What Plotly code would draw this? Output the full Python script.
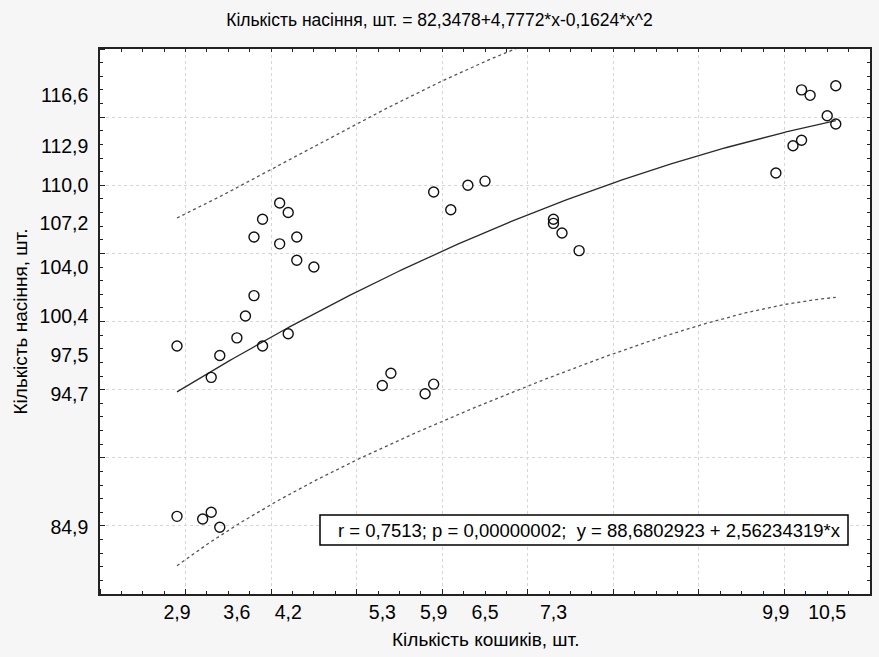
import numpy as np
import plotly.graph_objects as go

# ---- data ----
kosh = [2.9, 3.3, 3.4, 3.6, 3.7, 3.8, 3.9, 4.2, 3.8, 3.9, 4.1, 4.2, 4.1, 4.3, 4.3, 4.5,
        2.9, 3.2, 3.3, 3.4, 5.9, 6.1, 6.3, 6.5, 7.3, 7.3, 7.4, 7.6, 5.3, 5.4, 5.8, 5.9,
        10.2, 10.3, 10.6, 10.5, 10.6, 10.2, 10.1, 9.9]
nasin = [98.2, 95.9, 97.5, 98.8, 100.4, 101.9, 98.2, 99.1, 106.2, 107.5, 108.7, 108.0,
         105.7, 106.2, 104.5, 104.0, 85.7, 85.5, 86.0, 84.9, 109.5, 108.2, 110.0, 110.3,
         107.5, 107.2, 106.5, 105.2, 95.3, 96.2, 94.7, 95.4, 117.0, 116.6, 117.3, 115.1,
         114.5, 113.3, 112.9, 110.9]

# fitted polynomial from the title
b0, b1, b2 = 82.3478, 4.7772, -0.1624
t_crit = 2.026  # t(0.975, n-3)

x_ticks = [2.9, 3.6, 4.2, 5.3, 5.9, 6.5, 7.3, 9.9, 10.5]
y_ticks = [84.9, 94.7, 97.5, 100.4, 104.0, 107.2, 110.0, 112.9, 116.6]

def fmt(v):
    return f"{v:.1f}".replace(".", ",")

# ---- fit curve and 95% prediction band ----
xa = np.array(kosh)
ya = np.array(nasin)
X = np.column_stack([np.ones_like(xa), xa, xa ** 2])
beta = np.array([b0, b1, b2])
resid = ya - X @ beta
s = np.sqrt(np.sum(resid ** 2) / (len(xa) - 3))
XtX_inv = np.linalg.inv(X.T @ X)

xs = np.linspace(min(kosh), max(kosh), 200)
Xs = np.column_stack([np.ones_like(xs), xs, xs ** 2])
yhat = Xs @ beta
lev = np.einsum("ij,jk,ik->i", Xs, XtX_inv, Xs)
half = t_crit * s * np.sqrt(1 + lev)

FONT = "Liberation Sans, Arial, sans-serif"
TXT = 19
fig = go.Figure()

fig.add_trace(go.Scatter(x=xs, y=yhat + half, mode="lines",
                         line=dict(color="#555", width=1.3, dash="dot"), hoverinfo="skip"))
fig.add_trace(go.Scatter(x=xs, y=yhat - half, mode="lines",
                         line=dict(color="#555", width=1.3, dash="dot"), hoverinfo="skip"))
fig.add_trace(go.Scatter(x=xs, y=yhat, mode="lines",
                         line=dict(color="#2a2a2a", width=1.3), hoverinfo="skip"))
fig.add_trace(go.Scatter(x=kosh, y=nasin, mode="markers",
                         marker=dict(symbol="circle-open", size=10, color="#111",
                                     line=dict(width=1.4, color="#111"))))
# invisible trace for the overlay axes (small ticks)
fig.add_trace(go.Scatter(x=[2, 11], y=[80, 120], xaxis="x2", yaxis="y2",
                         mode="markers", marker=dict(opacity=0), hoverinfo="skip"))

XR = [2, 11]
YR = [80, 120]
L, R, T, B = 100, 9, 49, 63
PW, PH = 879 - L - R, 657 - T - B

fig.update_layout(
    width=879, height=657,
    margin=dict(l=L, r=R, t=T, b=B, autoexpand=False),
    paper_bgcolor="#f6f6f6", plot_bgcolor="white",
    showlegend=False,
    font=dict(family=FONT, size=19.5, color="black"),
    title=dict(text="Кількість насіння, шт. = 82,3478+4,7772*x-0,1624*x^2",
               x=0.5, xref="container", xanchor="center",
               y=1 - 20 / 657, yref="container", yanchor="middle",
               font=dict(size=17.5, family=FONT, color="black")),
    xaxis=dict(range=XR, tickvals=x_ticks, ticktext=[fmt(v) for v in x_ticks],
               ticks="", showgrid=False, zeroline=False, automargin=False,
               showline=True, linecolor="#222", linewidth=1.5, mirror=True,
               ticklabelstandoff=0,
               minor=dict(tick0=0, dtick=1, ticks="inside", ticklen=5,
                          tickcolor="#222", tickwidth=1,
                          showgrid=True, gridcolor="#d6d6d6", griddash="dot", gridwidth=1)),
    yaxis=dict(range=YR, tickvals=y_ticks, ticktext=[fmt(v) for v in y_ticks],
               ticks="", showgrid=False, zeroline=False, automargin=False,
               showline=True, linecolor="#222", linewidth=1.5, mirror=True,
               ticklabelstandoff=6,
               minor=dict(tick0=0, dtick=5, ticks="inside", ticklen=5,
                          tickcolor="#222", tickwidth=1,
                          showgrid=True, gridcolor="#d6d6d6", griddash="dot", gridwidth=1)),
    xaxis2=dict(range=XR, overlaying="x", anchor="y2", side="bottom", automargin=False,
                tickvals=list(np.arange(2, 11.001, 0.25)), ticks="inside", ticklen=3,
                tickcolor="#222", showticklabels=False, showgrid=False, zeroline=False,
                showline=False, mirror="allticks"),
    yaxis2=dict(range=YR, overlaying="y", anchor="x2", side="left", automargin=False,
                tickvals=list(np.arange(80, 120.001, 1)), ticks="inside", ticklen=3,
                tickcolor="#222", showticklabels=False, showgrid=False, zeroline=False,
                showline=False, mirror="allticks"),
)

# pixel helpers (paper fractions)
fx = lambda px: (px - L) / PW
fy = lambda py: 1 - (py - T) / PH

fig.update_layout(
    shapes=[dict(type="rect", xref="paper", yref="paper",
                 x0=fx(320), x1=fx(848), y0=fy(545), y1=fy(515),
                 line=dict(color="black", width=1.5), fillcolor="white", layer="above")],
    annotations=[
        dict(text="Кількість кошиків, шт.", xref="paper", yref="paper",
             x=0.5, y=fy(640), xanchor="center", yanchor="middle",
             showarrow=False, font=dict(size=TXT, family=FONT)),
        dict(text="Кількість насіння, шт.", xref="paper", yref="paper",
             x=fx(20), y=0.5, xanchor="center", yanchor="middle",
             textangle=-90, showarrow=False, font=dict(size=TXT, family=FONT)),
        dict(text="r = 0,7513; p = 0,00000002;  y = 88,6802923 + 2,56234319*x",
             xref="paper", yref="paper", x=fx(843), y=fy(530),
             xanchor="right", yanchor="middle",
             showarrow=False, font=dict(size=18.5, family=FONT)),
    ],
)

fig.write_html("out.html", config={"displayModeBar": False},
               post_script="document.body.style.margin='0';")
